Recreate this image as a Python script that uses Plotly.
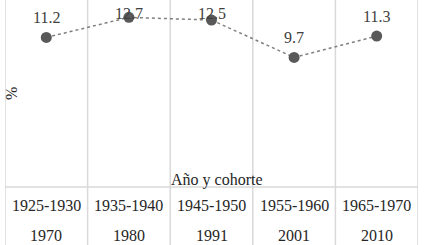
import plotly.graph_objects as go

cohorts = ["1925-1930", "1935-1940", "1945-1950", "1955-1960", "1965-1970"]
years = ["1970", "1980", "1991", "2001", "2010"]
values = [11.2, 12.7, 12.5, 9.7, 11.3]

W, H = 424, 245
FONT = "Liberation Serif"
x = list(range(len(cohorts)))

fig = go.Figure()
fig.add_trace(go.Scatter(
    x=x, y=values, mode="lines+markers",
    line=dict(color="#7f7f7f", width=1.5, dash="dot"),
    marker=dict(color="#595959", size=11),
    hoverinfo="skip", showlegend=False,
))

shapes = []
for i in range(len(cohorts) + 1):
    shapes.append(dict(type="line", xref="x", yref="paper", x0=i - 0.5, x1=i - 0.5,
                       y0=0, y1=1, line=dict(color="#d9d9d9", width=1.5), layer="below"))
shapes.append(dict(type="line", xref="paper", yref="y", x0=0, x1=1, y0=0, y1=0,
                   line=dict(color="#d9d9d9", width=1.5), layer="below"))

annotations = []
for i, v in enumerate(values):
    annotations.append(dict(x=i, y=min(v + 1.5, 13.0), xref="x", yref="y", text=f"{v}",
                            showarrow=False, font=dict(family=FONT, size=16, color="#404040")))
for i, (c, yr) in enumerate(zip(cohorts, years)):
    annotations.append(dict(x=i, y=-1.42, xref="x", yref="y", text=c, showarrow=False,
                            font=dict(family=FONT, size=16, color="#262626")))
    annotations.append(dict(x=i, y=-3.6, xref="x", yref="y", text=yr, showarrow=False,
                            font=dict(family=FONT, size=16, color="#262626")))
annotations.append(dict(x=2.07, y=0.55, xref="x", yref="y", text="Año y cohorte", showarrow=False,
                        font=dict(family=FONT, size=16, color="#262626")))
annotations.append(dict(x=-0.42, y=7.0, xref="x", yref="y", text="%", textangle=-90, showarrow=False,
                        font=dict(family=FONT, size=16, color="#262626")))

fig.update_layout(
    width=W, height=H,
    margin=dict(l=5, r=6, t=0, b=0),
    paper_bgcolor="white", plot_bgcolor="white",
    font=dict(family=FONT),
    xaxis=dict(range=[-0.5, len(cohorts) - 0.5], showgrid=False, zeroline=False,
               showticklabels=False, ticks=""),
    yaxis=dict(range=[-4.34, 14], showgrid=False, zeroline=False,
               showticklabels=False, ticks=""),
    shapes=shapes, annotations=annotations,
)
fig.write_html("out.html")
